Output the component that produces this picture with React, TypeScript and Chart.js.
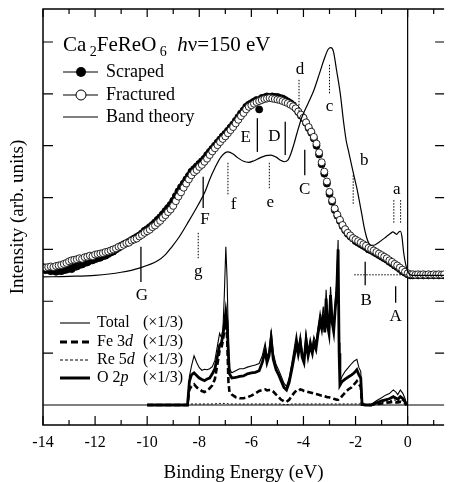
import { useEffect, useRef } from 'react';
import { Chart, registerables } from 'chart.js';

Chart.register(...registerables);

const SERIF = "'Liberation Serif', 'Times New Roman', serif";

// ---- Photoemission spectra (binding energy in eV) ----
const energies = [
  -14, -13.9, -13.8, -13.7, -13.6, -13.5, -13.4, -13.3, -13.2, -13.1,
  -13, -12.9, -12.8, -12.7, -12.6, -12.5, -12.4, -12.3, -12.2, -12.1,
  -12, -11.9, -11.8, -11.7, -11.6, -11.5, -11.4, -11.3, -11.2, -11.1,
  -11, -10.9, -10.8, -10.7, -10.6, -10.5, -10.4, -10.3, -10.2, -10.1,
  -10, -9.9, -9.8, -9.7, -9.6, -9.5, -9.4, -9.3, -9.2, -9.1,
  -9, -8.9, -8.8, -8.7, -8.6, -8.5, -8.4, -8.3, -8.2, -8.1,
  -8, -7.9, -7.8, -7.7, -7.6, -7.5, -7.4, -7.3, -7.2, -7.1,
  -7, -6.9, -6.8, -6.7, -6.6, -6.5, -6.4, -6.3, -6.2, -6.1,
  -6, -5.9, -5.8, -5.7, -5.6, -5.5, -5.4, -5.3, -5.2, -5.1,
  -5, -4.9, -4.8, -4.7, -4.6, -4.5, -4.4, -4.3, -4.2, -4.1,
  -4, -3.9, -3.8, -3.7, -3.6, -3.5, -3.4, -3.3, -3.2, -3.1,
  -3, -2.9, -2.8, -2.7, -2.6, -2.5, -2.4, -2.3, -2.2, -2.1,
  -2, -1.9, -1.8, -1.7, -1.6, -1.5, -1.4, -1.3, -1.2, -1.1,
  -1, -0.9, -0.8, -0.7, -0.6, -0.5, -0.4, -0.3, -0.2, -0.1,
  0, 0.1, 0.2, 0.3, 0.4, 0.5, 0.6, 0.7, 0.8, 0.9,
  1, 1.1, 1.2, 1.3, 1.4,
];

const scraped = [
  2.62, 2.60, 2.61, 2.58, 2.60, 2.57, 2.59, 2.58, 2.60, 2.61,
  2.63, 2.62, 2.66, 2.67, 2.70, 2.71, 2.74, 2.75, 2.78, 2.79,
  2.81, 2.83, 2.84, 2.87, 2.88, 2.91, 2.94, 2.96, 3.00, 3.03,
  3.07, 3.10, 3.12, 3.15, 3.18, 3.21, 3.24, 3.27, 3.31, 3.36,
  3.39, 3.43, 3.47, 3.52, 3.57, 3.62, 3.68, 3.74, 3.80, 3.86,
  3.94, 4.03, 4.12, 4.20, 4.27, 4.35, 4.42, 4.50, 4.55, 4.60,
  4.65, 4.70, 4.75, 4.82, 4.88, 4.94, 5.00, 5.06, 5.12, 5.18,
  5.23, 5.29, 5.35, 5.41, 5.48, 5.55, 5.62, 5.68, 5.75, 5.79,
  5.82, 5.85, 5.88, 5.70, 5.92, 5.93, 5.95, 5.94, 5.95, 5.94,
  5.94, 5.92, 5.91, 5.88, 5.85, 5.82, 5.78, 5.72, 5.65, 5.58,
  5.53, 5.44, 5.34, 5.25, 5.14, 5.00, 4.83, 4.64, 4.46, 4.27,
  4.07, 3.92, 3.76, 3.65, 3.55, 3.45, 3.37, 3.30, 3.25, 3.21,
  3.16, 3.13, 3.10, 3.07, 3.04, 3.00, 2.98, 2.95, 2.92, 2.89,
  2.86, 2.83, 2.80, 2.76, 2.73, 2.69, 2.66, 2.62, 2.58, 2.55,
  2.52, 2.50, 2.50, 2.51, 2.50, 2.51, 2.50, 2.51, 2.50, 2.51,
  2.50, 2.51, 2.50, 2.51, 2.50,
];

const fractured = [
  2.66, 2.65, 2.66, 2.67, 2.66, 2.68, 2.69, 2.70, 2.72, 2.74,
  2.77, 2.79, 2.80, 2.81, 2.83, 2.82, 2.85, 2.86, 2.88, 2.87,
  2.90, 2.91, 2.92, 2.93, 2.95, 2.96, 2.98, 3.00, 3.02, 3.05,
  3.06, 3.09, 3.12, 3.13, 3.17, 3.19, 3.21, 3.25, 3.28, 3.32,
  3.35, 3.38, 3.43, 3.46, 3.51, 3.55, 3.61, 3.66, 3.72, 3.77,
  3.84, 3.93, 4.02, 4.10, 4.19, 4.27, 4.35, 4.43, 4.49, 4.53,
  4.59, 4.63, 4.69, 4.75, 4.82, 4.89, 4.95, 5.01, 5.07, 5.13,
  5.18, 5.24, 5.30, 5.36, 5.43, 5.50, 5.57, 5.63, 5.70, 5.75,
  5.78, 5.81, 5.84, 5.86, 5.88, 5.90, 5.91, 5.92, 5.91, 5.90,
  5.89, 5.88, 5.86, 5.84, 5.82, 5.79, 5.76, 5.72, 5.66, 5.60,
  5.54, 5.45, 5.36, 5.27, 5.17, 5.04, 4.87, 4.68, 4.50, 4.31,
  4.11, 3.95, 3.79, 3.67, 3.57, 3.47, 3.39, 3.32, 3.27, 3.22,
  3.19, 3.16, 3.13, 3.10, 3.07, 3.03, 3.01, 2.98, 2.95, 2.92,
  2.89, 2.86, 2.83, 2.79, 2.76, 2.72, 2.69, 2.65, 2.61, 2.57,
  2.54, 2.52, 2.52, 2.51, 2.52, 2.51, 2.52, 2.51, 2.52, 2.51,
  2.52, 2.51, 2.52, 2.51, 2.52,
];

// ---- Band theory (broadened) ----
const bandE = [
  -14, -13, -12, -11, -10.3, -9.6, -9.3, -9.07, -8.8, -8.42, -8.04, -7.78, -7.6, -7.4,
  -7.17, -6.9, -6.7, -6.53, -6.3, -6.1, -5.9, -5.69, -5.45, -5.25, -5.05, -4.88, -4.74,
  -4.6, -4.48, -4.36, -4.25, -4.06, -3.82, -3.6, -3.38, -3.19, -3.05, -2.95, -2.85, -2.73,
  -2.58, -2.47, -2.36, -2.28, -2.15, -2.05, -1.95, -1.86, -1.76, -1.67, -1.58, -1.5, -1.4,
  -1.3, -1.1, -0.83, -0.65, -0.57, -0.48, -0.42, -0.35, -0.28, -0.22, -0.15, -0.07, 0,
  0.08, 0.2, 1.4,
];
const bandV = [
  2.47, 2.48, 2.50, 2.56, 2.64, 2.78, 2.90, 3.04, 3.22, 3.53, 3.86, 4.11, 4.35, 4.57,
  4.78, 4.88, 4.84, 4.77, 4.70, 4.68, 4.71, 4.76, 4.81, 4.82, 4.78, 4.72, 4.69,
  4.72, 4.85, 5.04, 5.24, 5.55, 5.82, 6.07, 6.40, 6.69, 6.86, 6.89, 6.82, 6.46,
  5.98, 5.50, 5.10, 4.92, 4.62, 4.40, 4.18, 3.95, 3.68, 3.43, 3.24, 3.13, 3.08,
  3.08, 3.14, 3.24, 3.31, 3.34, 3.31, 3.29, 3.33, 3.35, 3.25, 2.93, 2.70, 2.58,
  2.52, 2.50, 2.50,
];

// ---- Partial densities of states (x1/3) ----
const dosE = [
  -10, -8.45, -8.38, -8.3, -8.2, -8.1, -8, -7.9, -7.8, -7.7,
  -7.6, -7.5, -7.4, -7.3, -7.22, -7.15, -7.09, -7.04, -6.98, -6.93,
  -6.88, -6.84, -6.75, -6.6, -6.45, -6.3, -6.15, -6, -5.85, -5.7,
  -5.58, -5.47, -5.4, -5.32, -5.24, -5.16, -5.05, -4.95, -4.85, -4.75,
  -4.65, -4.55, -4.45, -4.35, -4.27, -4.2, -4.12, -4.05, -3.98, -3.9,
  -3.82, -3.74, -3.66, -3.6, -3.52, -3.44, -3.36, -3.3, -3.24, -3.18,
  -3.13, -3.08, -3.02, -2.96, -2.9, -2.84, -2.78, -2.72, -2.67, -2.63,
  -2.6, -2.52, -2.4, -2.28, -2.15, -2.05, -1.95, -1.87, -1.8, -1.75,
  -1.6, -1.4, -1.2, -1, -0.85, -0.7, -0.55, -0.45, -0.38, -0.28,
  -0.18, -0.1, -0.03,
];
const dosTotal = [
  0, 0, 0.55, 0.75, 0.95, 0.82, 0.72, 0.67, 0.69, 0.68,
  0.70, 0.74, 0.86, 1.15, 1.38, 1.30, 1.48, 2.10, 3.05, 2.40,
  1.20, 0.70, 0.62, 0.66, 0.70, 0.70, 0.73, 0.75, 0.77, 0.80,
  0.95, 1.19, 0.92, 1.05, 1.45, 1.00, 0.78, 0.67, 0.55, 0.42,
  0.36, 0.52, 0.80, 1.10, 1.36, 1.10, 1.35, 1.05, 0.92, 1.38,
  1.05, 1.28, 1.10, 1.32, 1.20, 1.50, 1.78, 1.60, 1.90, 1.55,
  2.22, 1.70, 1.50, 2.28, 1.75, 1.55, 2.00, 2.40, 3.18, 1.20,
  0.45, 0.55, 0.65, 0.72, 0.80, 0.85, 0.88, 0.72, 0.65, 0.02,
  0, 0.01, 0.08, 0.14, 0.19, 0.22, 0.29, 0.25, 0.20, 0.29,
  0.22, 0.12, 0,
];
const dosO2p = [
  0, 0, 0.45, 0.58, 0.62, 0.57, 0.52, 0.49, 0.47, 0.50,
  0.52, 0.60, 0.70, 0.95, 1.15, 1.20, 1.35, 1.55, 1.80, 1.60,
  0.95, 0.60, 0.52, 0.53, 0.55, 0.56, 0.60, 0.62, 0.63, 0.66,
  0.82, 1.05, 0.82, 0.95, 1.27, 0.88, 0.68, 0.58, 0.46, 0.34,
  0.29, 0.43, 0.68, 0.95, 1.18, 0.98, 1.20, 0.92, 0.82, 1.25,
  0.95, 1.15, 1.00, 1.20, 1.08, 1.38, 1.62, 1.48, 1.75, 1.40,
  2.05, 1.55, 1.38, 2.12, 1.60, 1.42, 1.85, 2.20, 3.00, 1.00,
  0.38, 0.45, 0.50, 0.54, 0.58, 0.62, 0.68, 0.58, 0.52, 0.01,
  0, 0, 0.04, 0.08, 0.10, 0.12, 0.16, 0.13, 0.11, 0.16,
  0.12, 0.06, 0,
];
const dosFe3d = [
  0, 0, 0.30, 0.36, 0.40, 0.34, 0.30, 0.27, 0.25, 0.28,
  0.32, 0.38, 0.50, 0.80, 1.05, 1.10, 1.25, 1.45, 1.60, 1.30,
  0.45, 0.25, 0.20, 0.15, 0.13, 0.13, 0.15, 0.18, 0.22, 0.27,
  0.29, 0.30, 0.28, 0.29, 0.29, 0.26, 0.20, 0.15, 0.10, 0.07,
  0.06, 0.10, 0.17, 0.24, 0.28, 0.27, 0.30, 0.29, 0.27, 0.26,
  0.25, 0.24, 0.23, 0.22, 0.21, 0.20, 0.19, 0.18, 0.18, 0.17,
  0.16, 0.15, 0.15, 0.14, 0.13, 0.12, 0.11, 0.10, 0.10, 0.12,
  0.12, 0.17, 0.24, 0.30, 0.34, 0.40, 0.46, 0.40, 0.35, 0.01,
  0, 0, 0.02, 0.03, 0.04, 0.05, 0.06, 0.05, 0.05, 0.06,
  0.05, 0.03, 0,
];
const dosRe5d = [
  0, 0, 0.02, 0.02, 0.02, 0.02, 0.02, 0.02, 0.02, 0.02,
  0.02, 0.02, 0.02, 0.03, 0.03, 0.03, 0.03, 0.03, 0.03, 0.03,
  0.02, 0.02, 0.02, 0.02, 0.02, 0.02, 0.02, 0.02, 0.02, 0.02,
  0.02, 0.02, 0.02, 0.02, 0.02, 0.02, 0.02, 0.02, 0.02, 0.01,
  0.01, 0.01, 0.02, 0.02, 0.02, 0.02, 0.02, 0.02, 0.02, 0.02,
  0.02, 0.02, 0.02, 0.02, 0.02, 0.02, 0.02, 0.02, 0.02, 0.02,
  0.02, 0.02, 0.02, 0.02, 0.02, 0.02, 0.02, 0.02, 0.02, 0.02,
  0.02, 0.02, 0.02, 0.02, 0.02, 0.02, 0.02, 0.02, 0.02, 0.01,
  0, 0.01, 0.03, 0.05, 0.07, 0.08, 0.10, 0.09, 0.08, 0.10,
  0.08, 0.05, 0,
];

// ---- Axes ----
const xTickValues = [-14, -12, -10, -8, -6, -4, -2, 0];
const xMinorValues = [-13, -11, -9, -7, -5, -3, -1, 1];
const yTickValues = [1, 2, 3, 4, 5, 6, 7];

// ---- Feature labels ----
const letterText = ['d', 'c', 'b', 'a', 'E', 'D', 'C', 'f', 'e', 'F', 'g', 'G', 'B', 'A'];
const letterE = [-4.13, -3.0, -1.67, -0.42, -6.22, -5.12, -3.95, -6.68, -5.27, -7.78, -8.04, -10.2, -1.59, -0.46];
const letterV = [6.46, 5.75, 4.72, 4.15, 5.15, 5.17, 4.15, 3.86, 3.91, 3.57, 2.58, 2.12, 2.02, 1.70];

const markE = [-4.17, -3.0, -2.09, -0.53, -0.27, -5.77, -4.7, -3.95, -6.9, -5.31, -7.85, -8.04, -10.24, -1.63, -0.46];
const markTop = [6.27, 6.56, 4.43, 3.95, 3.95, 5.53, 5.46, 4.92, 4.67, 4.67, 4.4, 3.32, 3.05, 2.76, 2.29];
const markBottom = [5.63, 5.98, 3.86, 3.51, 3.51, 4.88, 4.82, 4.43, 4.05, 4.15, 3.8, 2.83, 2.37, 2.31, 1.97];
const markDotted = [true, true, true, true, true, false, false, false, true, true, false, true, false, false, false];
const fermiLineE = [-2.05, 0];
const fermiLineV = 2.51;

function pts(xs: number[], ys: number[]) {
  return xs.map((x, i) => ({ x, y: ys[i] }));
}

function rich(ctx: CanvasRenderingContext2D, x: number, y: number, parts: [string, string, number][]) {
  let cx = x;
  for (const [t, font, dy] of parts) {
    ctx.font = font;
    ctx.fillText(t, cx, y + dy);
    cx += ctx.measureText(t).width;
  }
  return cx;
}

const decorPlugin = {
  id: 'decor',
  beforeDatasetsDraw(chart: any) {
    const { ctx, chartArea: a, scales } = chart;
    const x0 = scales.x.getPixelForValue(0);
    const y0 = scales.y.getPixelForValue(0);
    ctx.save();
    ctx.strokeStyle = '#000';
    ctx.lineWidth = 1.2;
    ctx.beginPath();
    ctx.moveTo(x0, a.top);
    ctx.lineTo(x0, a.bottom);
    ctx.moveTo(a.left, y0);
    ctx.lineTo(a.right, y0);
    ctx.stroke();
    ctx.restore();
  },
  afterDatasetsDraw(chart: any) {
    const { ctx, chartArea: a, scales } = chart;
    const X = (v: number) => scales.x.getPixelForValue(v);
    const Y = (v: number) => scales.y.getPixelForValue(v);
    ctx.save();
    ctx.strokeStyle = '#000';
    ctx.fillStyle = '#000';

    // frame
    ctx.lineWidth = 1.5;
    ctx.beginPath();
    ctx.moveTo(a.right, a.top);
    ctx.lineTo(a.left, a.top);
    ctx.lineTo(a.left, a.bottom);
    ctx.lineTo(a.right, a.bottom);
    ctx.stroke();

    // inward ticks
    ctx.lineWidth = 1.2;
    ctx.beginPath();
    for (const v of xTickValues) {
      const px = X(v);
      ctx.moveTo(px, a.bottom); ctx.lineTo(px, a.bottom - 9);
      ctx.moveTo(px, a.top); ctx.lineTo(px, a.top + 8);
    }
    for (const v of xMinorValues) {
      const px = X(v);
      ctx.moveTo(px, a.bottom); ctx.lineTo(px, a.bottom - 5);
      ctx.moveTo(px, a.top); ctx.lineTo(px, a.top + 5);
    }
    for (const v of yTickValues) {
      const py = Y(v);
      ctx.moveTo(a.left, py); ctx.lineTo(a.left + 10, py);
      ctx.moveTo(a.right, py); ctx.lineTo(a.right - 9, py);
    }
    ctx.stroke();

    // feature marker lines
    for (let i = 0; i < markE.length; i++) {
      ctx.beginPath();
      if (markDotted[i]) { ctx.setLineDash([1.5, 1.5]); ctx.lineWidth = 1; }
      else { ctx.setLineDash([]); ctx.lineWidth = 1.3; }
      ctx.moveTo(X(markE[i]), Y(markTop[i]));
      ctx.lineTo(X(markE[i]), Y(markBottom[i]));
      ctx.stroke();
    }
    ctx.setLineDash([1.5, 1.5]);
    ctx.lineWidth = 1;
    ctx.beginPath();
    ctx.moveTo(X(fermiLineE[0]), Y(fermiLineV));
    ctx.lineTo(X(fermiLineE[1]), Y(fermiLineV));
    ctx.stroke();
    ctx.setLineDash([]);

    // feature letters
    ctx.font = `17px ${SERIF}`;
    ctx.textAlign = 'center';
    ctx.textBaseline = 'middle';
    for (let i = 0; i < letterText.length; i++) {
      ctx.fillText(letterText[i], X(letterE[i]), Y(letterV[i]));
    }

    // title
    ctx.textAlign = 'left';
    ctx.textBaseline = 'alphabetic';
    const big = `21px ${SERIF}`;
    const sub = `14px ${SERIF}`;
    const bigI = `italic 21px ${SERIF}`;
    const tl = a.left + 20;
    const tb = a.top + 42;
    rich(ctx, tl, tb, [
      ['Ca', big, 0], [' ', sub, 0], ['2', sub, 5], ['FeReO', big, 0], [' ', sub, 0], ['6', sub, 5],
      ['   ', sub, 0], ['h', bigI, 0], ['\u03bd=150 eV', big, 0],
    ]);

    // spectra legend
    const lf = `18px ${SERIF}`;
    const lx0 = a.left + 20, lx1 = a.left + 55, lmid = a.left + 38, ltx = a.left + 63;
    const rows = [a.top + 63, a.top + 86, a.top + 108];
    ctx.textBaseline = 'middle';
    ctx.font = lf;
    ctx.lineWidth = 1.2;
    for (let r = 0; r < 3; r++) {
      ctx.beginPath();
      ctx.moveTo(lx0, rows[r]);
      ctx.lineTo(lx1, rows[r]);
      ctx.stroke();
    }
    ctx.beginPath();
    ctx.arc(lmid, rows[0], 5, 0, Math.PI * 2);
    ctx.fillStyle = '#000';
    ctx.fill();
    ctx.beginPath();
    ctx.arc(lmid, rows[1], 5, 0, Math.PI * 2);
    ctx.fillStyle = '#fff';
    ctx.fill();
    ctx.lineWidth = 1;
    ctx.stroke();
    ctx.fillStyle = '#000';
    ctx.fillText('Scraped', ltx, rows[0]);
    ctx.fillText('Fractured', ltx, rows[1]);
    ctx.fillText('Band theory', ltx, rows[2]);

    // DOS legend
    const df = `16px ${SERIF}`;
    const dfi = `italic 16px ${SERIF}`;
    const dx0 = a.left + 17, dx1 = a.left + 47, dtx = a.left + 54, dpx = a.left + 140;
    const drows = [a.top + 314, a.top + 333, a.top + 351, a.top + 369];
    const styles: [number, number[]][] = [[1.1, []], [3, [7, 4]], [1, [3, 2]], [3, []]];
    for (let r = 0; r < 4; r++) {
      ctx.beginPath();
      ctx.lineWidth = styles[r][0];
      ctx.setLineDash(styles[r][1]);
      ctx.moveTo(dx0, drows[r]);
      ctx.lineTo(dx1, drows[r]);
      ctx.stroke();
    }
    ctx.setLineDash([]);
    rich(ctx, dtx, drows[0], [['Total', df, 0]]);
    rich(ctx, dtx, drows[1], [['Fe 3', df, 0], ['d', dfi, 0]]);
    rich(ctx, dtx, drows[2], [['Re 5', df, 0], ['d', dfi, 0]]);
    rich(ctx, dtx, drows[3], [['O 2', df, 0], ['p', dfi, 0]]);
    ctx.font = df;
    ctx.textAlign = 'right';
    for (let r = 0; r < 4; r++) ctx.fillText('(\u00d71/3)', dpx, drows[r]);

    ctx.restore();
  },
};

export default function App() {
  const ref = useRef<HTMLCanvasElement | null>(null);

  useEffect(() => {
    if (!ref.current) return;
    const chart = new Chart(ref.current, {
      type: 'scatter',
      data: {
        datasets: [
          {
            label: 'Band theory',
            data: pts(bandE, bandV),
            showLine: true,
            borderColor: '#000',
            borderWidth: 1.2,
            pointRadius: 0,
            cubicInterpolationMode: 'monotone',
          },
          {
            label: 'Fractured',
            data: pts(energies, fractured),
            showLine: false,
            pointRadius: 3.5,
            pointBorderWidth: 0.9,
            pointBackgroundColor: '#fff',
            pointBorderColor: '#111',
          },
          {
            label: 'Scraped',
            data: pts(energies, scraped),
            showLine: false,
            pointRadius: 3.5,
            pointBorderWidth: 0.9,
            pointBackgroundColor: '#000',
            pointBorderColor: '#000',
          },
          {
            label: 'Total',
            data: pts(dosE, dosTotal),
            showLine: true,
            borderColor: '#000',
            borderWidth: 1.1,
            pointRadius: 0,
            tension: 0,
          },
          {
            label: 'Fe 3d',
            data: pts(dosE, dosFe3d),
            showLine: true,
            borderColor: '#000',
            borderWidth: 2.6,
            borderDash: [6, 3],
            pointRadius: 0,
            tension: 0,
          },
          {
            label: 'Re 5d',
            data: pts(dosE, dosRe5d),
            showLine: true,
            borderColor: '#000',
            borderWidth: 1,
            borderDash: [2, 2],
            pointRadius: 0,
            tension: 0,
          },
          {
            label: 'O 2p',
            data: pts(dosE, dosO2p),
            showLine: true,
            borderColor: '#000',
            borderWidth: 2.8,
            pointRadius: 0,
            tension: 0,
          },
        ],
      } as any,
      options: {
        animation: false,
        responsive: false,
        maintainAspectRatio: false,
        devicePixelRatio: 1,
        events: [],
        layout: { padding: { left: 6.6, top: 9, right: 0, bottom: -1 } },
        plugins: { legend: { display: false }, tooltip: { enabled: false } },
        scales: {
          x: {
            type: 'linear',
            min: -14,
            max: 1.4,
            afterBuildTicks: (s: any) => {
              s.ticks = xTickValues.map((v) => ({ value: v }));
            },
            ticks: {
              color: '#000',
              font: { family: SERIF, size: 16 },
              padding: 8,
              maxRotation: 0,
              autoSkip: false,
              callback: (v: any) => String(v),
            },
            grid: { display: false, drawTicks: false },
            border: { display: false },
            title: {
              display: true,
              text: 'Binding Energy (eV)',
              color: '#000',
              font: { family: SERIF, size: 19 },
              padding: { top: 1, bottom: -1 },
            },
          },
          y: {
            type: 'linear',
            min: -0.386,
            max: 7.636,
            ticks: { display: false },
            grid: { display: false, drawTicks: false },
            border: { display: false },
            title: {
              display: true,
              text: 'Intensity (arb. units)',
              color: '#000',
              font: { family: SERIF, size: 19 },
              padding: { top: 0, bottom: 13.6 },
            },
          },
        },
      } as any,
      plugins: [decorPlugin],
    });
    return () => chart.destroy();
  }, []);

  return (
    <div style={{ position: 'absolute', left: 0, top: 0, width: 449, height: 482, background: '#fff' }}>
      <canvas ref={ref} width={449} height={482} style={{ display: 'block' }} />
    </div>
  );
}
